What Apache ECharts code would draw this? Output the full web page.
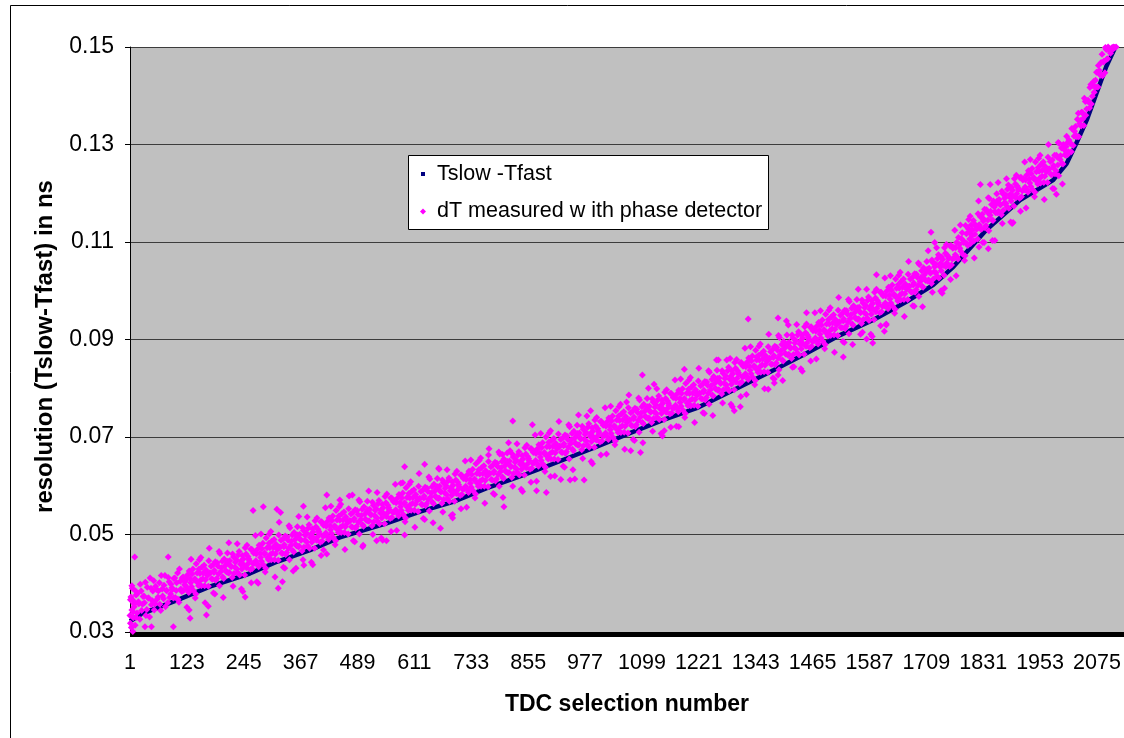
<!DOCTYPE html>
<html>
<head>
<meta charset="utf-8">
<script src="https://cdn.jsdelivr.net/npm/echarts@6/dist/echarts.min.js"></script>
<style>
  html, body { margin: 0; padding: 0; background: #ffffff; }
  #chart { width: 1124px; height: 738px; }
</style>
</head>
<body>
<div id="chart"></div>
<script>
// ---- tick labels ----
const xTickLabels = ['1','123','245','367','489','611','733','855','977','1099','1221','1343','1465','1587','1709','1831','1953','2075'];
const yTickLabels = ['0.03','0.05','0.07','0.09','0.11','0.13','0.15'];

// ---- series names ----
const seriesNames = ['Tslow -Tfast', 'dT measured w ith phase detector'];

// ---- Tslow-Tfast (sorted curve), [TDC selection number, ns] ----
const tslowTfast = [[1,.0322],[26,.0337],[101,.0365],[172,.0393],[258,.0420],[316,.0444],[387,.0468],[451,.0494],[551,.0523],[623,.0547],[694,.0567],[766,.0595],[837,.0619],[895,.0640],[1002,.0680],[1073,.0708],[1145,.0735],[1216,.0759],[1288,.0793],[1381,.0837],[1452,.0872],[1524,.0909],[1595,.0940],[1667,.0978],[1724,.1012],[1767,.1049],[1838,.1125],[1910,.1186],[1981,.1227],[2010,.1261],[2031,.1303],[2053,.1350],[2074,.1405],[2095,.1460],[2113,.1497]];

// ---- dT measured with phase detector, [TDC selection number, ns] ----
const dT_A = [[1,.0334],[4,.0309],[7,.0365],[10,.0352],[13,.0384],[16,.0339],[19,.0362],[22,.0326],[25,.0384],[28,.0357],
[31,.0374],[34,.0402],[37,.0346],[40,.0370],[43,.0331],[46,.0390],[49,.0364],[52,.0405],[55,.0358],[58,.0387],
[61,.0372],[64,.0401],[67,.0344],[70,.0388],[73,.0368],[76,.0416],[79,.0385],[82,.0360],[85,.0403],[88,.0378],
[91,.0391],[94,.0370],[97,.0411],[100,.0385],[103,.0421],[106,.0361],[109,.0404],[112,.0383],[115,.0413],[118,.0397],
[121,.0394],[124,.0417],[127,.0381],[130,.0409],[133,.0393],[136,.0429],[139,.0407],[142,.0378],[145,.0421],[148,.0395],
[151,.0420],[154,.0395],[157,.0409],[160,.0437],[163,.0407],[166,.0422],[169,.0394],[172,.0421],[175,.0435],[178,.0408],
[181,.0422],[184,.0444],[187,.0410],[190,.0435],[193,.0395],[196,.0424],[199,.0445],[202,.0410],[205,.0436],[208,.0423],
[211,.0445],[214,.0422],[217,.0436],[220,.0412],[223,.0454],[226,.0433],[229,.0448],[232,.0422],[235,.0465],[238,.0439],
[241,.0429],[244,.0450],[247,.0417],[250,.0460],[253,.0439],[256,.0450],[259,.0428],[262,.0470],[265,.0440],[268,.0463],
[271,.0446],[274,.0469],[277,.0434],[280,.0461],[283,.0445],[286,.0482],[289,.0460],[292,.0431],[295,.0473],[298,.0448],
[301,.0473],[304,.0448],[307,.0462],[310,.0490],[313,.0460],[316,.0475],[319,.0447],[322,.0474],[325,.0488],[328,.0461],
[331,.0475],[334,.0497],[337,.0463],[340,.0488],[343,.0448],[346,.0478],[349,.0499],[352,.0464],[355,.0490],[358,.0477],
[361,.0499],[364,.0476],[367,.0490],[370,.0466],[373,.0508],[376,.0488],[379,.0503],[382,.0477],[385,.0520],[388,.0494],
[391,.0484],[394,.0505],[397,.0472],[400,.0516],[403,.0495],[406,.0506],[409,.0484],[412,.0526],[415,.0497],[418,.0520],
[421,.0503],[424,.0526],[427,.0490],[430,.0518],[433,.0502],[436,.0538],[439,.0516],[442,.0487],[445,.0530],[448,.0504]];
const dT_B = [[451,.0529],[454,.0504],[457,.0518],[460,.0546],[463,.0516],[466,.0529],[469,.0501],[472,.0528],[475,.0542],[478,.0515],
[481,.0529],[484,.0551],[487,.0517],[490,.0541],[493,.0501],[496,.0531],[499,.0552],[502,.0517],[505,.0542],[508,.0529],
[511,.0551],[514,.0528],[517,.0542],[520,.0518],[523,.0560],[526,.0539],[529,.0553],[532,.0527],[535,.0570],[538,.0544],
[541,.0534],[544,.0555],[547,.0522],[550,.0565],[553,.0544],[556,.0555],[559,.0533],[562,.0575],[565,.0545],[568,.0568],
[571,.0551],[574,.0574],[577,.0538],[580,.0565],[583,.0549],[586,.0585],[589,.0563],[592,.0534],[595,.0576],[598,.0550],
[601,.0575],[604,.0550],[607,.0564],[610,.0592],[613,.0562],[616,.0575],[619,.0547],[622,.0574],[625,.0588],[628,.0561],
[631,.0575],[634,.0597],[637,.0563],[640,.0588],[643,.0548],[646,.0577],[649,.0598],[652,.0563],[655,.0589],[658,.0576],
[661,.0598],[664,.0575],[667,.0589],[670,.0564],[673,.0606],[676,.0585],[679,.0600],[682,.0574],[685,.0616],[688,.0590],
[691,.0580],[694,.0601],[697,.0568],[700,.0612],[703,.0591],[706,.0602],[709,.0580],[712,.0622],[715,.0593],[718,.0616],
[721,.0599],[724,.0622],[727,.0586],[730,.0613],[733,.0597],[736,.0634],[739,.0612],[742,.0583],[745,.0625],[748,.0599],
[751,.0624],[754,.0599],[757,.0613],[760,.0641],[763,.0611],[766,.0626],[769,.0598],[772,.0625],[775,.0639],[778,.0612],
[781,.0626],[784,.0648],[787,.0614],[790,.0639],[793,.0599],[796,.0629],[799,.0650],[802,.0615],[805,.0641],[808,.0628],
[811,.0650],[814,.0627],[817,.0641],[820,.0617],[823,.0659],[826,.0638],[829,.0653],[832,.0627],[835,.0670],[838,.0644],
[841,.0634],[844,.0655],[847,.0622],[850,.0665],[853,.0644],[856,.0656],[859,.0634],[862,.0676],[865,.0646],[868,.0669],
[871,.0652],[874,.0675],[877,.0640],[880,.0667],[883,.0652],[886,.0688],[889,.0666],[892,.0638],[895,.0680],[898,.0655]];
const dT_C = [[901,.0680],[904,.0655],[907,.0669],[910,.0697],[913,.0667],[916,.0682],[919,.0654],[922,.0681],[925,.0695],[928,.0668],
[931,.0682],[934,.0704],[937,.0670],[940,.0695],[943,.0655],[946,.0686],[949,.0707],[952,.0672],[955,.0698],[958,.0685],
[961,.0707],[964,.0684],[967,.0698],[970,.0674],[973,.0716],[976,.0695],[979,.0710],[982,.0684],[985,.0727],[988,.0701],
[991,.0691],[994,.0712],[997,.0679],[1000,.0722],[1003,.0701],[1006,.0712],[1009,.0690],[1012,.0732],[1015,.0702],[1018,.0725],
[1021,.0708],[1024,.0731],[1027,.0695],[1030,.0723],[1033,.0707],[1036,.0743],[1039,.0721],[1042,.0692],[1045,.0735],[1048,.0709],
[1051,.0734],[1054,.0709],[1057,.0723],[1060,.0752],[1063,.0722],[1066,.0736],[1069,.0708],[1072,.0735],[1075,.0750],[1078,.0723],
[1081,.0737],[1084,.0759],[1087,.0725],[1090,.0750],[1093,.0710],[1096,.0741],[1099,.0762],[1102,.0727],[1105,.0753],[1108,.0740],
[1111,.0762],[1114,.0739],[1117,.0753],[1120,.0730],[1123,.0772],[1126,.0751],[1129,.0766],[1132,.0740],[1135,.0784],[1138,.0758],
[1141,.0748],[1144,.0769],[1147,.0736],[1150,.0779],[1153,.0758],[1156,.0769],[1159,.0747],[1162,.0789],[1165,.0759],[1168,.0782],
[1171,.0765],[1174,.0788],[1177,.0752],[1180,.0779],[1183,.0763],[1186,.0799],[1189,.0777],[1192,.0748],[1195,.0790],[1198,.0764],
[1201,.0789],[1204,.0764],[1207,.0778],[1210,.0807],[1213,.0777],[1216,.0791],[1219,.0763],[1222,.0790],[1225,.0805],[1228,.0778],
[1231,.0792],[1234,.0814],[1237,.0781],[1240,.0806],[1243,.0767],[1246,.0797],[1249,.0818],[1252,.0784],[1255,.0810],[1258,.0798],
[1261,.0820],[1264,.0797],[1267,.0812],[1270,.0788],[1273,.0831],[1276,.0810],[1279,.0825],[1282,.0800],[1285,.0843],[1288,.0818],
[1291,.0808],[1294,.0830],[1297,.0797],[1300,.0841],[1303,.0820],[1306,.0832],[1309,.0810],[1312,.0853],[1315,.0823],[1318,.0847],
[1321,.0830],[1324,.0853],[1327,.0818],[1330,.0845],[1333,.0830],[1336,.0866],[1339,.0844],[1342,.0816],[1345,.0858],[1348,.0833]];
const dT_D = [[1351,.0858],[1354,.0833],[1357,.0848],[1360,.0876],[1363,.0847],[1366,.0861],[1369,.0833],[1372,.0861],[1375,.0875],[1378,.0849],
[1381,.0863],[1384,.0886],[1387,.0852],[1390,.0878],[1393,.0838],[1396,.0869],[1399,.0890],[1402,.0856],[1405,.0882],[1408,.0870],
[1411,.0892],[1414,.0870],[1417,.0884],[1420,.0861],[1423,.0903],[1426,.0883],[1429,.0898],[1432,.0873],[1435,.0916],[1438,.0891],
[1441,.0881],[1444,.0903],[1447,.0870],[1450,.0914],[1453,.0893],[1456,.0905],[1459,.0883],[1462,.0926],[1465,.0896],[1468,.0920],
[1471,.0903],[1474,.0927],[1477,.0891],[1480,.0919],[1483,.0903],[1486,.0940],[1489,.0918],[1492,.0890],[1495,.0932],[1498,.0907],
[1501,.0932],[1504,.0908],[1507,.0922],[1510,.0951],[1513,.0921],[1516,.0936],[1519,.0908],[1522,.0936],[1525,.0950],[1528,.0924],
[1531,.0938],[1534,.0960],[1537,.0927],[1540,.0952],[1543,.0912],[1546,.0943],[1549,.0964],[1552,.0929],[1555,.0955],[1558,.0943],
[1561,.0965],[1564,.0942],[1567,.0957],[1570,.0933],[1573,.0975],[1576,.0955],[1579,.0970],[1582,.0944],[1585,.0987],[1588,.0962],
[1591,.0952],[1594,.0974],[1597,.0941],[1600,.0985],[1603,.0964],[1606,.0976],[1609,.0955],[1612,.0997],[1615,.0968],[1618,.0991],
[1621,.0975],[1624,.0999],[1627,.0963],[1630,.0991],[1633,.0975],[1636,.1012],[1639,.0991],[1642,.0962],[1645,.1005],[1648,.0979],
[1651,.1005],[1654,.0981],[1657,.0995],[1660,.1024],[1663,.0994],[1666,.1009],[1669,.0982],[1672,.1009],[1675,.1024],[1678,.0997],
[1681,.1012],[1684,.1035],[1687,.1002],[1690,.1027],[1693,.0988],[1696,.1019],[1699,.1041],[1702,.1007],[1705,.1033],[1708,.1021],
[1711,.1044],[1714,.1022],[1717,.1038],[1720,.1015],[1723,.1058],[1726,.1039],[1729,.1055],[1732,.1030],[1735,.1074],[1738,.1050],
[1741,.1041],[1744,.1064],[1747,.1032],[1750,.1077],[1753,.1057],[1756,.1070],[1759,.1050],[1762,.1093],[1765,.1065],[1768,.1089],
[1771,.1074],[1774,.1099],[1777,.1065],[1780,.1095],[1783,.1081],[1786,.1119],[1789,.1099],[1792,.1072],[1795,.1117],[1798,.1093]];
const dT_E = [[1801,.1120],[1804,.1097],[1807,.1113],[1810,.1144],[1813,.1116],[1816,.1132],[1819,.1106],[1822,.1135],[1825,.1152],[1828,.1127],
[1831,.1143],[1834,.1167],[1837,.1134],[1840,.1161],[1843,.1123],[1846,.1155],[1849,.1177],[1852,.1144],[1855,.1172],[1858,.1160],
[1861,.1184],[1864,.1163],[1867,.1178],[1870,.1156],[1873,.1199],[1876,.1180],[1879,.1197],[1882,.1172],[1885,.1217],[1888,.1192],
[1891,.1184],[1894,.1206],[1897,.1174],[1900,.1219],[1903,.1199],[1906,.1211],[1909,.1190],[1912,.1233],[1915,.1205],[1918,.1229],
[1921,.1213],[1924,.1237],[1927,.1202],[1930,.1229],[1933,.1214],[1936,.1251],[1939,.1230],[1942,.1202],[1945,.1244],[1948,.1219],
[1951,.1245],[1954,.1221],[1957,.1235],[1960,.1264],[1963,.1235],[1966,.1250],[1969,.1222],[1972,.1250],[1975,.1265],[1978,.1238],
[1981,.1253],[1984,.1278],[1987,.1246],[1990,.1274],[1993,.1236],[1996,.1269],[1999,.1293],[2002,.1260],[2005,.1289],[2008,.1278],
[2011,.1303],[2014,.1285],[2017,.1304],[2020,.1285],[2023,.1332],[2026,.1317],[2029,.1337],[2032,.1316],[2035,.1364],[2038,.1343],
[2041,.1338],[2044,.1365],[2047,.1339],[2050,.1388],[2053,.1373],[2056,.1391],[2059,.1375],[2062,.1423],[2065,.1399],[2068,.1429],
[2071,.1418],[2074,.1448],[2077,.1418],[2080,.1452],[2083,.1442],[2086,.1485],[2089,.1469],[2092,.1447],[2095,.1495],[2098,.1476],
[2101,.1493],[2104,.1487],[2107,.1498],[2110,.1496],[2113,.1499],[2116,.1500]];
// second set of readings (upper half of the band)
const dT2_A = [[2,.0366],[5,.0395],[8,.0341],[11,.0358],[14,.0330],[17,.0379],[20,.0358],[23,.0398],[26,.0344],[29,.0373],
[32,.0360],[35,.0334],[38,.0392],[41,.0370],[44,.0411],[47,.0356],[50,.0384],[53,.0345],[56,.0394],[59,.0367],
[62,.0384],[65,.0357],[68,.0416],[71,.0374],[74,.0396],[77,.0352],[80,.0385],[83,.0412],[86,.0371],[89,.0398],
[92,.0387],[95,.0410],[98,.0371],[101,.0401],[104,.0367],[107,.0429],[110,.0388],[113,.0411],[116,.0385],[119,.0403],
[122,.0408],[125,.0387],[128,.0425],[131,.0401],[134,.0419],[137,.0385],[140,.0409],[143,.0440],[146,.0401],[149,.0429],
[152,.0406],[155,.0433],[158,.0421],[161,.0395],[164,.0427],[167,.0416],[170,.0446],[173,.0421],[176,.0409],[179,.0438],
[182,.0426],[185,.0406],[188,.0442],[191,.0419],[194,.0461],[197,.0432],[200,.0413],[203,.0450],[206,.0426],[209,.0441],
[212,.0421],[215,.0446],[218,.0434],[221,.0460],[224,.0420],[227,.0443],[230,.0430],[233,.0458],[236,.0417],[239,.0445],
[242,.0457],[245,.0438],[248,.0473],[251,.0432],[254,.0455],[257,.0446],[260,.0470],[263,.0430],[266,.0462],[269,.0441],
[272,.0460],[275,.0439],[278,.0478],[281,.0453],[284,.0471],[287,.0438],[290,.0462],[293,.0493],[296,.0453],[299,.0482],
[302,.0459],[305,.0486],[308,.0474],[311,.0448],[314,.0480],[317,.0469],[320,.0499],[323,.0474],[326,.0462],[329,.0491],
[332,.0479],[335,.0459],[338,.0495],[341,.0472],[344,.0514],[347,.0486],[350,.0467],[353,.0504],[356,.0480],[359,.0495],
[362,.0475],[365,.0500],[368,.0488],[371,.0514],[374,.0474],[377,.0498],[380,.0485],[383,.0513],[386,.0472],[389,.0500],
[392,.0512],[395,.0493],[398,.0528],[401,.0488],[404,.0511],[407,.0502],[410,.0526],[413,.0486],[416,.0519],[419,.0498],
[422,.0517],[425,.0496],[428,.0534],[431,.0510],[434,.0528],[437,.0494],[440,.0518],[443,.0549],[446,.0510],[449,.0538]];
const dT2_B = [[452,.0515],[455,.0542],[458,.0530],[461,.0504],[464,.0536],[467,.0523],[470,.0553],[473,.0528],[476,.0516],[479,.0545],
[482,.0533],[485,.0513],[488,.0549],[491,.0525],[494,.0567],[497,.0539],[500,.0520],[503,.0557],[506,.0532],[509,.0547],
[512,.0527],[515,.0552],[518,.0540],[521,.0566],[524,.0526],[527,.0549],[530,.0535],[533,.0563],[536,.0522],[539,.0550],
[542,.0562],[545,.0543],[548,.0578],[551,.0537],[554,.0560],[557,.0551],[560,.0575],[563,.0535],[566,.0567],[569,.0546],
[572,.0565],[575,.0544],[578,.0582],[581,.0557],[584,.0575],[587,.0541],[590,.0565],[593,.0596],[596,.0556],[599,.0584],
[602,.0561],[605,.0588],[608,.0576],[611,.0550],[614,.0582],[617,.0569],[620,.0599],[623,.0574],[626,.0562],[629,.0591],
[632,.0579],[635,.0559],[638,.0595],[641,.0572],[644,.0614],[647,.0585],[650,.0566],[653,.0603],[656,.0579],[659,.0594],
[662,.0574],[665,.0599],[668,.0587],[671,.0612],[674,.0572],[677,.0595],[680,.0582],[683,.0610],[686,.0568],[689,.0596],
[692,.0608],[695,.0589],[698,.0624],[701,.0584],[704,.0607],[707,.0598],[710,.0622],[713,.0582],[716,.0615],[719,.0594],
[722,.0613],[725,.0592],[728,.0630],[731,.0605],[734,.0623],[737,.0590],[740,.0614],[743,.0645],[746,.0605],[749,.0633],
[752,.0610],[755,.0637],[758,.0625],[761,.0599],[764,.0631],[767,.0620],[770,.0650],[773,.0625],[776,.0613],[779,.0642],
[782,.0630],[785,.0610],[788,.0646],[791,.0623],[794,.0665],[797,.0637],[800,.0618],[803,.0655],[806,.0631],[809,.0646],
[812,.0626],[815,.0651],[818,.0639],[821,.0665],[824,.0625],[827,.0648],[830,.0635],[833,.0663],[836,.0622],[839,.0650],
[842,.0662],[845,.0643],[848,.0678],[851,.0637],[854,.0660],[857,.0652],[860,.0676],[863,.0636],[866,.0668],[869,.0647],
[872,.0666],[875,.0645],[878,.0684],[881,.0659],[884,.0678],[887,.0644],[890,.0668],[893,.0700],[896,.0660],[899,.0689]];
const dT2_C = [[902,.0666],[905,.0693],[908,.0681],[911,.0655],[914,.0687],[917,.0676],[920,.0706],[923,.0681],[926,.0669],[929,.0698],
[932,.0686],[935,.0666],[938,.0702],[941,.0679],[944,.0721],[947,.0694],[950,.0675],[953,.0712],[956,.0688],[959,.0703],
[962,.0683],[965,.0708],[968,.0696],[971,.0722],[974,.0682],[977,.0705],[980,.0692],[983,.0720],[986,.0679],[989,.0707],
[992,.0719],[995,.0700],[998,.0735],[1001,.0694],[1004,.0717],[1007,.0708],[1010,.0732],[1013,.0692],[1016,.0724],[1019,.0703],
[1022,.0722],[1025,.0701],[1028,.0739],[1031,.0715],[1034,.0733],[1037,.0699],[1040,.0723],[1043,.0754],[1046,.0715],[1049,.0743],
[1052,.0720],[1055,.0747],[1058,.0735],[1061,.0710],[1064,.0742],[1067,.0730],[1070,.0760],[1073,.0735],[1076,.0724],[1079,.0753],
[1082,.0741],[1085,.0721],[1088,.0757],[1091,.0734],[1094,.0776],[1097,.0749],[1100,.0730],[1103,.0767],[1106,.0743],[1109,.0758],
[1112,.0738],[1115,.0763],[1118,.0751],[1121,.0778],[1124,.0738],[1127,.0761],[1130,.0748],[1133,.0776],[1136,.0736],[1139,.0764],
[1142,.0776],[1145,.0757],[1148,.0792],[1151,.0751],[1154,.0774],[1157,.0765],[1160,.0789],[1163,.0749],[1166,.0781],[1169,.0760],
[1172,.0779],[1175,.0758],[1178,.0796],[1181,.0771],[1184,.0789],[1187,.0755],[1190,.0779],[1193,.0810],[1196,.0770],[1199,.0798],
[1202,.0775],[1205,.0802],[1208,.0790],[1211,.0765],[1214,.0797],[1217,.0785],[1220,.0815],[1223,.0790],[1226,.0779],[1229,.0808],
[1232,.0796],[1235,.0776],[1238,.0813],[1241,.0790],[1244,.0833],[1247,.0805],[1250,.0786],[1253,.0824],[1256,.0800],[1259,.0816],
[1262,.0796],[1265,.0821],[1268,.0810],[1271,.0836],[1274,.0797],[1277,.0820],[1280,.0807],[1283,.0836],[1286,.0795],[1289,.0824],
[1292,.0836],[1295,.0818],[1298,.0853],[1301,.0813],[1304,.0836],[1307,.0828],[1310,.0852],[1313,.0813],[1316,.0845],[1319,.0825],
[1322,.0844],[1325,.0823],[1328,.0862],[1331,.0837],[1334,.0856],[1337,.0822],[1340,.0846],[1343,.0878],[1346,.0838],[1349,.0867]];
const dT2_D = [[1352,.0844],[1355,.0871],[1358,.0860],[1361,.0834],[1364,.0867],[1367,.0855],[1370,.0885],[1373,.0861],[1376,.0849],[1379,.0879],
[1382,.0867],[1385,.0848],[1388,.0884],[1391,.0862],[1394,.0904],[1397,.0877],[1400,.0858],[1403,.0896],[1406,.0872],[1409,.0888],
[1412,.0868],[1415,.0894],[1418,.0882],[1421,.0909],[1424,.0869],[1427,.0893],[1430,.0880],[1433,.0909],[1436,.0868],[1439,.0897],
[1442,.0909],[1445,.0891],[1448,.0926],[1451,.0886],[1454,.0909],[1457,.0901],[1460,.0925],[1463,.0886],[1466,.0918],[1469,.0898],
[1472,.0917],[1475,.0897],[1478,.0935],[1481,.0911],[1484,.0929],[1487,.0896],[1490,.0920],[1493,.0952],[1496,.0912],[1499,.0941],
[1502,.0918],[1505,.0946],[1508,.0934],[1511,.0909],[1514,.0941],[1517,.0930],[1520,.0960],[1523,.0936],[1526,.0924],[1529,.0954],
[1532,.0942],[1535,.0922],[1538,.0959],[1541,.0936],[1544,.0978],[1547,.0951],[1550,.0932],[1553,.0969],[1556,.0945],[1559,.0961],
[1562,.0941],[1565,.0966],[1568,.0955],[1571,.0981],[1574,.0941],[1577,.0965],[1580,.0952],[1583,.0980],[1586,.0939],[1589,.0968],
[1592,.0980],[1595,.0962],[1598,.0997],[1601,.0957],[1604,.0980],[1607,.0972],[1610,.0997],[1613,.0957],[1616,.0990],[1619,.0969],
[1622,.0989],[1625,.0969],[1628,.1007],[1631,.0983],[1634,.1001],[1637,.0968],[1640,.0993],[1643,.1024],[1646,.0985],[1649,.1013],
[1652,.0991],[1655,.1019],[1658,.1007],[1661,.0982],[1664,.1014],[1667,.1003],[1670,.1034],[1673,.1009],[1676,.0998],[1679,.1027],
[1682,.1016],[1685,.0997],[1688,.1034],[1691,.1011],[1694,.1054],[1697,.1027],[1700,.1009],[1703,.1047],[1706,.1023],[1709,.1039],
[1712,.1020],[1715,.1046],[1718,.1036],[1721,.1063],[1724,.1024],[1727,.1049],[1730,.1037],[1733,.1066],[1736,.1026],[1739,.1056],
[1742,.1069],[1745,.1052],[1748,.1088],[1751,.1049],[1754,.1073],[1757,.1066],[1760,.1092],[1763,.1053],[1766,.1087],[1769,.1067],
[1772,.1088],[1775,.1069],[1778,.1109],[1781,.1087],[1784,.1107],[1787,.1075],[1790,.1101],[1793,.1134],[1796,.1097],[1799,.1127]];
const dT2_E = [[1802,.1106],[1805,.1135],[1808,.1125],[1811,.1102],[1814,.1136],[1817,.1126],[1820,.1158],[1823,.1135],[1826,.1126],[1829,.1157],
[1832,.1147],[1835,.1129],[1838,.1166],[1841,.1145],[1844,.1189],[1847,.1163],[1850,.1145],[1853,.1184],[1856,.1162],[1859,.1178],
[1862,.1160],[1865,.1187],[1868,.1176],[1871,.1204],[1874,.1165],[1877,.1190],[1880,.1179],[1883,.1208],[1886,.1169],[1889,.1198],
[1892,.1212],[1895,.1194],[1898,.1230],[1901,.1191],[1904,.1215],[1907,.1207],[1910,.1232],[1913,.1193],[1916,.1227],[1919,.1207],
[1922,.1227],[1925,.1207],[1928,.1246],[1931,.1221],[1934,.1240],[1937,.1207],[1940,.1232],[1943,.1264],[1946,.1224],[1949,.1253],
[1952,.1231],[1955,.1259],[1958,.1247],[1961,.1222],[1964,.1255],[1967,.1244],[1970,.1274],[1973,.1250],[1976,.1239],[1979,.1268],
[1982,.1257],[1985,.1240],[1988,.1278],[1991,.1258],[1994,.1302],[1997,.1277],[2000,.1261],[2003,.1300],[2006,.1279],[2009,.1296],
[2012,.1279],[2015,.1309],[2018,.1302],[2021,.1333],[2024,.1298],[2027,.1327],[2030,.1319],[2033,.1352],[2036,.1316],[2039,.1349],
[2042,.1366],[2045,.1353],[2048,.1395],[2051,.1360],[2054,.1389],[2057,.1387],[2060,.1417],[2063,.1383],[2066,.1421],[2069,.1407],
[2072,.1432],[2075,.1418],[2078,.1462],[2081,.1444],[2084,.1468],[2087,.1441],[2090,.1471],[2093,.1499],[2096,.1475],[2099,.1500],
[2102,.1497],[2105,.1494],[2108,.1499],[2111,.1500]];
// third set: the looser points above and below the dense band
const dT3 = [[123,.0351],[132,.0449],[141,.0370],[150,.0448],[153,.0453],[162,.0360],[171,.0472],[180,.0380],
[183,.0378],[192,.0465],[201,.0371],[210,.0462],[213,.0483],[222,.0394],[231,.0481],[240,.0388],
[243,.0383],[252,.0478],[261,.0401],[270,.0498],[273,.0403],[282,.0501],[291,.0423],[300,.0501],
[303,.0506],[312,.0413],[321,.0525],[330,.0433],[333,.0431],[342,.0518],[351,.0425],[360,.0516],
[363,.0537],[372,.0448],[381,.0536],[390,.0443],[393,.0438],[402,.0534],[411,.0457],[420,.0555],
[423,.0460],[432,.0558],[441,.0479],[450,.0557],[453,.0562],[462,.0469],[471,.0579],[480,.0487],
[483,.0485],[492,.0571],[501,.0478],[510,.0568],[513,.0589],[522,.0500],[531,.0586],[540,.0493],
[543,.0488],[552,.0583],[561,.0506],[570,.0603],[573,.0508],[582,.0605],[591,.0526],[600,.0603],
[603,.0608],[612,.0515],[621,.0625],[630,.0533],[633,.0531],[642,.0618],[651,.0524],[660,.0615],
[663,.0636],[672,.0546],[681,.0633],[690,.0539],[693,.0534],[702,.0630],[711,.0553],[720,.0651],
[723,.0556],[732,.0653],[741,.0575],[750,.0652],[753,.0657],[762,.0564],[771,.0676],[780,.0584],
[783,.0582],[792,.0669],[801,.0576],[810,.0667],[813,.0688],[822,.0599],[831,.0686],[840,.0593],
[843,.0588],[852,.0683],[861,.0607],[870,.0704],[873,.0609],[882,.0707],[891,.0629],[900,.0708],
[903,.0713],[912,.0620],[921,.0732],[930,.0640],[933,.0638],[942,.0725],[951,.0633],[960,.0724],
[963,.0745],[972,.0656],[981,.0743],[990,.0650],[993,.0645],[1002,.0740],[1011,.0663],[1020,.0760],
[1023,.0665],[1032,.0763],[1041,.0684],[1050,.0762],[1053,.0767],[1062,.0675],[1071,.0786],[1080,.0695],
[1083,.0693],[1092,.0780],[1101,.0688],[1110,.0779],[1113,.0800],[1122,.0712],[1131,.0799],[1140,.0707],
[1143,.0702],[1152,.0797],[1161,.0720],[1170,.0817],[1173,.0722],[1182,.0819],[1191,.0740],[1200,.0817],
[1203,.0822],[1212,.0730],[1221,.0841],[1230,.0750],[1233,.0748],[1242,.0836],[1251,.0744],[1260,.0837],
[1263,.0858],[1272,.0770],[1281,.0858],[1290,.0767],[1293,.0762],[1302,.0859],[1311,.0783],[1320,.0882],
[1323,.0787],[1332,.0885],[1341,.0807],[1350,.0886],[1353,.0891],[1362,.0799],[1371,.0911],[1380,.0821],
[1383,.0819],[1392,.0908],[1401,.0816],[1410,.0909],[1413,.0930],[1422,.0843],[1431,.0931],[1440,.0840],
[1443,.0835],[1452,.0932],[1461,.0856],[1470,.0955],[1473,.0860],[1482,.0959],[1491,.0881],[1500,.0960],
[1503,.0965],[1512,.0874],[1521,.0986],[1530,.0896],[1533,.0894],[1542,.0982],[1551,.0890],[1560,.0982],
[1563,.1003],[1572,.0915],[1581,.1003],[1590,.0911],[1593,.0906],[1602,.1003],[1611,.0928],[1620,.1026],
[1623,.0932],[1632,.1031],[1641,.0954],[1650,.1032],[1653,.1038],[1662,.0947],[1671,.1060],[1680,.0969],
[1683,.0968],[1692,.1057],[1701,.0967],[1710,.1060],[1713,.1082],[1722,.0997],[1731,.1088],[1740,.0999],
[1743,.0995],[1752,.1095],[1761,.1023],[1770,.1124],[1773,.1031],[1782,.1135],[1791,.1062],[1800,.1146],
[1803,.1153],[1812,.1067],[1821,.1184],[1830,.1099],[1833,.1099],[1842,.1191],[1851,.1103],[1860,.1199],
[1863,.1222],[1872,.1138],[1881,.1230],[1890,.1141],[1893,.1138],[1902,.1237],[1911,.1163],[1920,.1264],
[1923,.1170],[1932,.1269],[1941,.1193],[1950,.1272],[1953,.1278],[1962,.1187],[1971,.1300],[1980,.1210],
[1983,.1209],[1992,.1304],[2001,.1219],[2010,.1317]];
const dT_outliers = [[2,.0318],[3,.0372],[5,.0345],[6,.0390],[8,.0329],[9,.0358],[11,.0454],[12,.0314],[14,.0376],[7,.0301],[33,.0311],[47,.0311],[83,.0454],[94,.0311],[128,.0345],[130,.0328],[165,.0335],[169,.0353],[248,.0372],[265,.0549],[276,.0400],[287,.0557],[316,.0552],[319,.0390],[324,.0545],[328,.0403],[357,.0431],[373,.0558],[374,.0437],[416,.0468],[423,.0581],[451,.0571],[478,.0581],[500,.0475],[530,.0487],[551,.0487],[586,.0606],[590,.0639],[590,.0499],[633,.0644],[664,.0634],[667,.0513],[693,.0541],[770,.0663],[800,.0664],[803,.0557],[816,.0672],[822,.0733],[864,.0725],[873,.0590],[894,.0586],[903,.0619],[925,.0613],[945,.0612],[955,.0614],[975,.0612],[989,.0754],[1066,.0772],[1075,.0672],[1096,.0668],[1100,.0827],[1125,.0808],[1147,.0713],[1178,.0721],[1190,.0839],[1259,.0858],[1288,.0861],[1297,.0754],[1310,.0762],[1327,.0942],[1345,.0864],[1370,.0798],[1383,.0811],[1391,.0827],[1391,.0944],[1409,.0938],[1425,.0844],[1452,.0955],[1531,.0864],[1568,.0911],[1581,.0901],[1594,.0893],[1602,.1033],[1619,.0917],[1623,.0930],[1719,.1120],[1727,.1099],[1741,.1000],[1748,.1005],[1822,.1090],[1825,.1218],[1842,.1086],[1846,.1218],[1856,.1103],[1895,.1140],[1988,.1198]];

const FONT = "'Liberation Sans', Arial, sans-serif";
const chart = echarts.init(document.getElementById('chart'), null, { renderer: 'canvas' });

const option = {
  animation: false,
  backgroundColor: '#ffffff',
  textStyle: { fontFamily: FONT },
  grid: {
    left: 130, right: 0, top: 47, bottom: 106,
    show: true, backgroundColor: '#c0c0c0', borderWidth: 0,
    containLabel: false, outerBoundsMode: 'none'
  },
  legend: {
    show: true, orient: 'vertical', left: 420, top: 162, z: 20,
    itemWidth: 6, itemHeight: 6, itemGap: 13.5, padding: 0,
    selectedMode: false,
    textStyle: { fontFamily: FONT, fontSize: 21.5, color: '#000', lineHeight: 24, padding: [0, 0, 0, 6] },
    data: [
      { name: seriesNames[0], icon: 'path://M0,0M6,6M1,1h4v4h-4z' },
      { name: seriesNames[1], icon: 'diamond' }
    ]
  },
  graphic: [
    { type: 'rect', z: 0, silent: true, shape: { x: 10.5, y: 5.5, width: 1200, height: 800 },
      style: { fill: 'none', stroke: '#000', lineWidth: 1 } },
    { type: 'rect', z: 15, silent: true, shape: { x: 408.5, y: 155.5, width: 360, height: 74 },
      style: { fill: '#ffffff', stroke: '#000', lineWidth: 1 } }
  ],
  xAxis: {
    type: 'value', min: 1, max: 2133, interval: 122,
    name: 'TDC selection number', nameLocation: 'middle', nameGap: 61,
    nameTextStyle: { fontFamily: FONT, fontSize: 23, fontWeight: 'bold', color: '#000' },
    axisLine: { show: true, onZero: false, lineStyle: { color: '#000', width: 1 } },
    axisTick: { show: true, length: 5, inside: false, lineStyle: { color: '#000', width: 1 } },
    minorTick: { show: true, splitNumber: 61, length: 5, lineStyle: { color: '#000', width: 1 } },
    splitLine: { show: false }, minorSplitLine: { show: false },
    axisLabel: {
      show: true, margin: 20, fontFamily: FONT, fontSize: 21.5, color: '#000',
      showMinLabel: true, showMaxLabel: false, hideOverlap: false,
      formatter: function (v) { const s = String(Math.round(v)); return xTickLabels.indexOf(s) >= 0 ? s : ''; }
    }
  },
  yAxis: {
    type: 'value', min: 0.03, max: 0.15, interval: 0.02,
    name: 'resolution (Tslow-Tfast) in ns', nameLocation: 'middle', nameGap: 73,
    nameTextStyle: { fontFamily: FONT, fontSize: 24, fontWeight: 'bold', color: '#000', padding: [0, 14, 0, 0] },
    axisLine: { show: true, lineStyle: { color: '#000', width: 1 } },
    axisTick: { show: true, length: 5, inside: false, lineStyle: { color: '#000', width: 1 } },
    splitLine: { show: true, lineStyle: { color: '#3c3c3c', width: 1 } },
    axisLabel: {
      show: true, margin: 16, fontFamily: FONT, fontSize: 23, color: '#000',
      formatter: function (v) { const s = v.toFixed(2); return yTickLabels.indexOf(s) >= 0 ? s : ''; }
    }
  },
  series: [
    {
      name: seriesNames[0], type: 'line', data: tslowTfast, symbol: 'none', smooth: false, z: 2,
      itemStyle: { color: '#000080' },
      lineStyle: { color: '#000080', width: 4.5 }
    },
    {
      name: seriesNames[1], type: 'scatter', symbol: 'diamond', symbolSize: 7, z: 3,
      data: dT_A.concat(dT_B, dT_C, dT_D, dT_E, dT2_A, dT2_B, dT2_C, dT2_D, dT2_E, dT3, dT_outliers),
      itemStyle: { color: '#ff00ff', opacity: 1 }
    }
  ]
};
chart.setOption(option);
</script>
</body>
</html>
